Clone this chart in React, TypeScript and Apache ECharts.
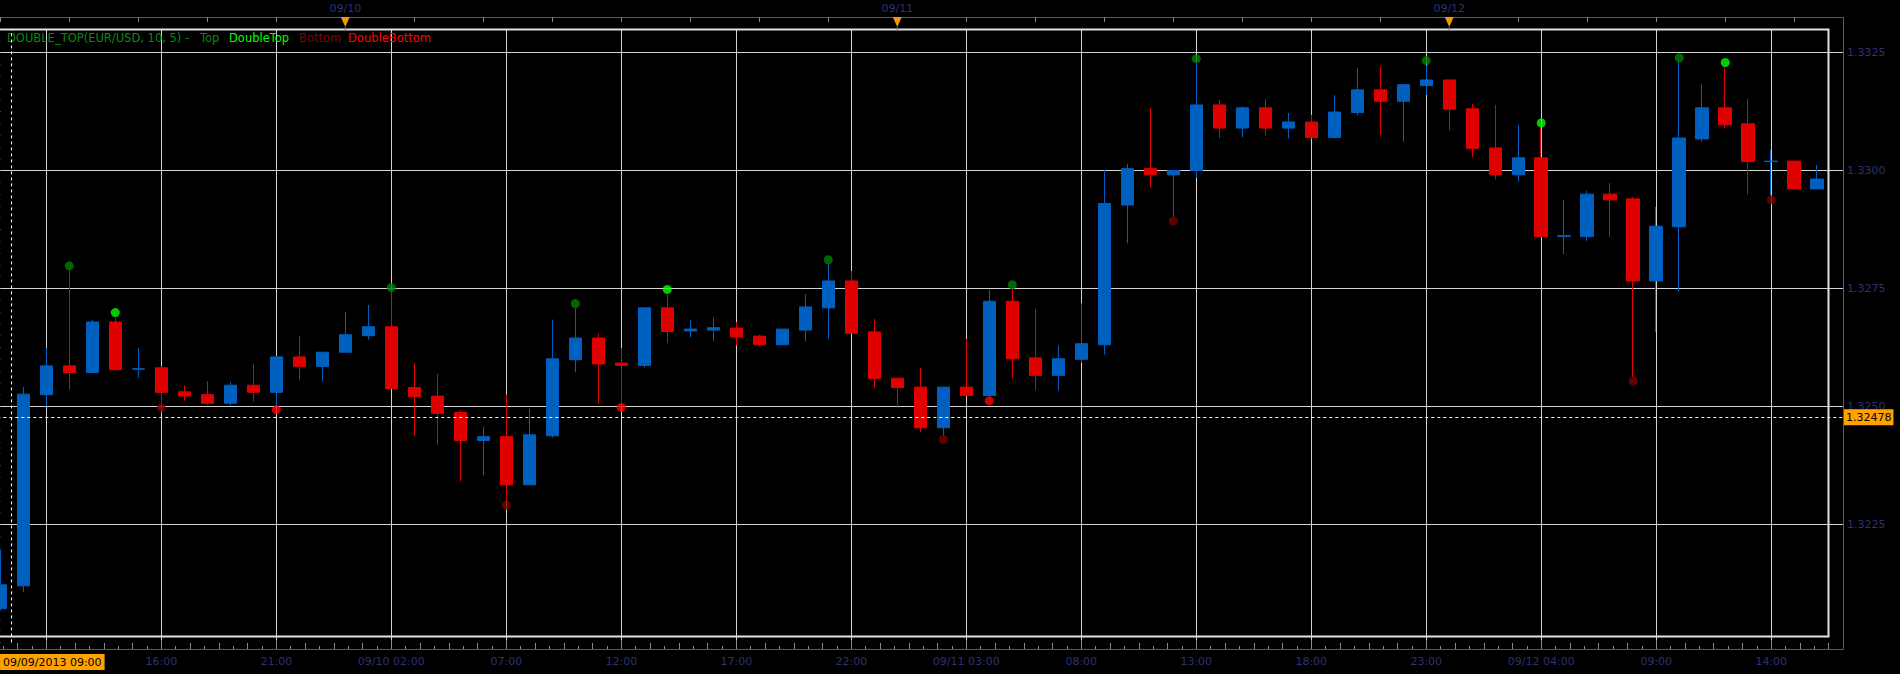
import React, { useEffect, useRef } from 'react';
import * as echarts from 'echarts';

// ---- candle data (hourly EUR/USD, index 0 = 09/09/2013 09:00) ----
const opens = [
  1.32072, 1.3212, 1.32525, 1.32586, 1.32572, 1.32679, 1.32579, 1.32582, 1.32531, 1.32525,
  1.32507, 1.32545, 1.3253, 1.32605, 1.32585, 1.32615, 1.3265, 1.32669, 1.3254, 1.32522,
  1.32487, 1.32428, 1.32436, 1.32334, 1.32438, 1.32599, 1.32645, 1.32592, 1.32587, 1.32709,
  1.3266, 1.32662, 1.32666, 1.32649, 1.32631, 1.32662, 1.32709, 1.32766, 1.32658, 1.3256,
  1.32541, 1.32455, 1.32541, 1.32523, 1.32723, 1.32603, 1.32566, 1.326, 1.32631, 1.32927,
  1.33004, 1.32991, 1.33, 1.33139, 1.3309, 1.33133, 1.3309, 1.33103, 1.3307, 1.33123,
  1.33171, 1.33147, 1.3318, 1.33192, 1.33131, 1.33048, 1.32991, 1.33027, 1.3286, 1.3286,
  1.3295, 1.3294, 1.32766, 1.32881, 1.33067, 1.33133, 1.33099, 1.33019, 1.3302, 1.32961,
];
const closes = [
  1.32122, 1.32526, 1.32586, 1.32572, 1.32679, 1.32578, 1.3258, 1.3253, 1.32522, 1.32507,
  1.32545, 1.3253, 1.32605, 1.32585, 1.32615, 1.32652, 1.32669, 1.32538, 1.32521, 1.32485,
  1.32428, 1.32436, 1.32334, 1.3244, 1.32601, 1.32645, 1.3259, 1.32587, 1.32709, 1.32659,
  1.32664, 1.32667, 1.32647, 1.32631, 1.32664, 1.32711, 1.32766, 1.32655, 1.32559, 1.3254,
  1.32455, 1.32541, 1.32523, 1.32723, 1.32601, 1.32566, 1.32601, 1.32633, 1.3293, 1.33004,
  1.32991, 1.33, 1.33139, 1.3309, 1.33133, 1.3309, 1.33103, 1.3307, 1.33124, 1.33171,
  1.33147, 1.33182, 1.33192, 1.3313, 1.33047, 1.32991, 1.33027, 1.3286, 1.32862, 1.3295,
  1.32938, 1.32766, 1.32882, 1.33069, 1.33133, 1.33097, 1.33019, 1.3302, 1.32961, 1.32982,
];
const lows = [
  1.32068, 1.32107, 1.325, 1.32535, 1.32572, 1.32578, 1.32561, 1.32502, 1.32512, 1.32503,
  1.32502, 1.32511, 1.32502, 1.32555, 1.32553, 1.32615, 1.32642, 1.32538, 1.32438, 1.32419,
  1.32341, 1.32354, 1.323, 1.32334, 1.32434, 1.32573, 1.32506, 1.32502, 1.32582, 1.32634,
  1.32647, 1.32639, 1.32629, 1.32628, 1.32631, 1.32638, 1.32644, 1.32655, 1.3254, 1.32497,
  1.32445, 1.32438, 1.32523, 1.32521, 1.32559, 1.32534, 1.32534, 1.32593, 1.3261, 1.32846,
  1.32964, 1.32902, 1.32985, 1.33069, 1.33071, 1.33074, 1.33068, 1.33068, 1.33068, 1.33117,
  1.33075, 1.33061, 1.3316, 1.33085, 1.33028, 1.32981, 1.32976, 1.3286, 1.32823, 1.32851,
  1.32859, 1.32562, 1.32658, 1.32744, 1.33061, 1.33089, 1.3295, 1.32944, 1.32959, 1.32961,
];
const highs = [
  1.32196, 1.32541, 1.32624, 1.32789, 1.32684, 1.32688, 1.32624, 1.32585, 1.32545, 1.32554,
  1.32552, 1.3259, 1.32607, 1.32649, 1.32615, 1.327, 1.32715, 1.32746, 1.32592, 1.32569,
  1.32492, 1.32457, 1.32525, 1.32495, 1.32684, 1.32708, 1.32654, 1.32624, 1.32709, 1.32737,
  1.32684, 1.32688, 1.32679, 1.32652, 1.32664, 1.32738, 1.32803, 1.32787, 1.32685, 1.3256,
  1.32582, 1.32541, 1.32643, 1.32747, 1.3275, 1.32707, 1.32629, 1.32719, 1.33001, 1.33014,
  1.33133, 1.33001, 1.33232, 1.3315, 1.33136, 1.33152, 1.33122, 1.33118, 1.3316, 1.33217,
  1.33221, 1.33182, 1.33222, 1.33192, 1.33141, 1.33139, 1.33097, 1.33092, 1.32938, 1.32957,
  1.32974, 1.32944, 1.32923, 1.33232, 1.33183, 1.33219, 1.33152, 1.33044, 1.3302, 1.33012,
];

// ---- pattern markers ----
const topIdx = [3, 17, 25, 36, 44, 52, 62, 73];
const topVal = [1.32798, 1.32752, 1.32718, 1.32811, 1.32758, 1.33237, 1.33233, 1.33239];
const doubleTopIdx = [5, 29, 67, 75];
const doubleTopVal = [1.32699, 1.32748, 1.33101, 1.33229];
const bottomIdx = [7, 22, 41, 51, 71, 77];
const bottomVal = [1.32497, 1.32291, 1.3243, 1.32893, 1.32554, 1.32938];
const doubleBottomIdx = [12, 27, 43];
const doubleBottomVal = [1.32493, 1.32498, 1.32512];

// ---- axis labels ----
const timeTickIndex = [7, 12, 17, 22, 27, 32, 37, 42, 47, 52, 57, 62, 67, 72, 77];
const timeTickLabels = [
  '16:00', '21:00', '09/10 02:00', '07:00', '12:00', '17:00', '22:00', '09/11 03:00',
  '08:00', '13:00', '18:00', '23:00', '09/12 04:00', '09:00', '14:00',
];
const dayTickIndex = [15, 39, 63];
const dayTickLabels = ['09/10', '09/11', '09/12'];

// ---- crosshair ----
const crosshairIndex = 0.478;
const crosshairTime = '09/09/2013 09:00';
const crosshairPrice = 1.32478;

const legendTexts = ['DOUBLE_TOP(EUR/USD, 10, 5) -', 'Top', 'DoubleTop', 'Bottom', 'DoubleBottom'];
const legendColors = ['#0a8a0a', '#0a8a0a', '#00ff00', '#800000', '#ff0000'];
const legendX = [7, 200, 229, 299, 348];

const X_MIN = -3;
const X_MAX = 80.12;
const Y_MIN = 1.32;
const Y_MAX = 1.333;

const FONT = 'DejaVu Sans';
const LABEL_COLOR = '#2d3270';
const GRID_COLOR = '#d4d4d4';
const AXIS_COLOR = '#5a5a5a';
const TICK_COLOR = '#8a8a8a';
const UP = '#0060c0';
const DOWN = '#e00000';

export default function App() {
  const ref = useRef<HTMLDivElement>(null);
  useEffect(() => {
    if (!ref.current) return;
    const chart = echarts.init(ref.current, undefined, { renderer: 'svg' });
    const exact = (v: number) => Math.abs(v - Math.round(v)) < 1e-6;
    const option: any = {
      animation: false,
      backgroundColor: '#000000',
      grid: {
        left: -68.7,
        right: 57,
        top: 29,
        bottom: 31.6,
        containLabel: false,
        outerBoundsMode: 'none',
        show: false,
      },
      axisPointer: { triggerOn: 'none' },
      xAxis: [
        {
          type: 'value',
          position: 'bottom',
          min: X_MIN,
          max: X_MAX,
          interval: 5,
          offset: 6.6,
          axisLine: { show: true, lineStyle: { color: AXIS_COLOR, width: 1 } },
          axisTick: { show: true, inside: true, length: 9, lineStyle: { color: TICK_COLOR } },
          minorTick: { show: true, splitNumber: 8, length: 3, lineStyle: { color: TICK_COLOR } },
          axisLabel: {
            show: true,
            margin: 7,
            fontFamily: FONT,
            fontSize: 11,
            color: LABEL_COLOR,
            formatter: (v: number) => {
              if (!exact(v)) return '';
              const k = timeTickIndex.indexOf(Math.round(v));
              return k >= 0 ? timeTickLabels[k] : '';
            },
          },
          splitLine: {
            show: true,
            showMinLine: false,
            showMaxLine: false,
            lineStyle: { color: GRID_COLOR, width: 1 },
          },
          minorSplitLine: { show: false },
          axisPointer: {
            show: true,
            status: 'show',
            value: crosshairIndex,
            type: 'line',
            snap: false,
            triggerTooltip: false,
            lineStyle: { color: '#ffffff', width: 1, type: [3, 3] },
            label: {
              show: true,
              formatter: () => crosshairTime,
              backgroundColor: '#ffa200',
              color: '#000000',
              fontFamily: FONT,
              fontSize: 11,
              lineHeight: 12,
              padding: [2, 3, 2, 3],
              margin: 5,
              borderRadius: 0,
              shadowBlur: 0,
            },
          },
        },
        {
          type: 'value',
          position: 'bottom',
          min: X_MIN,
          max: X_MAX,
          interval: 1.25,
          offset: 6.6,
          axisLine: { show: false },
          axisTick: { show: true, inside: true, length: 6, lineStyle: { color: TICK_COLOR } },
          axisLabel: { show: false },
          splitLine: { show: false },
        },
        {
          type: 'value',
          position: 'top',
          min: X_MIN,
          max: X_MAX,
          interval: 3,
          offset: 12,
          axisLine: { show: true, lineStyle: { color: AXIS_COLOR, width: 1 } },
          axisTick: { show: true, inside: true, length: 5, lineStyle: { color: TICK_COLOR } },
          axisLabel: {
            show: true,
            margin: 3,
            fontFamily: FONT,
            fontSize: 11,
            color: LABEL_COLOR,
            formatter: (v: number) => {
              if (!exact(v)) return '';
              const k = dayTickIndex.indexOf(Math.round(v));
              return k >= 0 ? dayTickLabels[k] : '';
            },
          },
          splitLine: { show: false },
        },
      ],
      yAxis: [
        {
          type: 'value',
          position: 'right',
          min: Y_MIN,
          max: Y_MAX,
          interval: 0.0025,
          offset: 0,
          axisLine: { show: false },
          axisTick: { show: true, inside: true, length: 4, lineStyle: { color: TICK_COLOR } },
          minorTick: { show: true, splitNumber: 10, length: 4, lineStyle: { color: TICK_COLOR } },
          axisLabel: {
            show: true,
            margin: 4,
            fontFamily: FONT,
            fontSize: 11,
            color: LABEL_COLOR,
            showMinLabel: false,
            showMaxLabel: false,
            formatter: (v: number) => v.toFixed(4),
          },
          splitLine: {
            show: true,
            showMinLine: false,
            showMaxLine: false,
            lineStyle: { color: GRID_COLOR, width: 1 },
          },
          axisPointer: {
            show: true,
            status: 'show',
            value: crosshairPrice,
            type: 'line',
            snap: false,
            triggerTooltip: false,
            lineStyle: { color: '#ffffff', width: 1, type: [3, 3] },
            label: {
              show: true,
              formatter: (p: any) => Number(p.value).toFixed(5),
              backgroundColor: '#ffa200',
              color: '#000000',
              fontFamily: FONT,
              fontSize: 11,
              lineHeight: 12,
              padding: [2, 2, 2, 2],
              margin: 1,
              borderRadius: 0,
              shadowBlur: 0,
            },
          },
        },
        {
          type: 'value',
          position: 'right',
          min: Y_MIN,
          max: Y_MAX,
          interval: 0.00125,
          offset: 0,
          axisLine: { show: false },
          axisTick: { show: true, inside: true, length: 7, lineStyle: { color: TICK_COLOR } },
          axisLabel: { show: false },
          splitLine: { show: false },
        },
      ],
      series: [
        {
          type: 'candlestick',
          name: 'EUR/USD',
          xAxisIndex: 0,
          yAxisIndex: 0,
          barWidth: 13,
          data: opens.map((o, i) => [i, o, closes[i], lows[i], highs[i]]),
          itemStyle: {
            color: UP,
            color0: DOWN,
            borderColor: UP,
            borderColor0: DOWN,
            borderWidth: 1,
          },
          z: 3,
        },
        {
          type: 'scatter',
          name: 'Top',
          xAxisIndex: 0,
          yAxisIndex: 0,
          symbol: 'circle',
          symbolSize: 9,
          clip: false,
          data: topIdx.map((x, k) => [x, topVal[k]]),
          itemStyle: { color: '#008000' },
          z: 5,
        },
        {
          type: 'scatter',
          name: 'DoubleTop',
          xAxisIndex: 0,
          yAxisIndex: 0,
          symbol: 'circle',
          symbolSize: 9,
          clip: false,
          data: doubleTopIdx.map((x, k) => [x, doubleTopVal[k]]),
          itemStyle: { color: '#00ff00' },
          z: 5,
        },
        {
          type: 'scatter',
          name: 'Bottom',
          xAxisIndex: 0,
          yAxisIndex: 0,
          symbol: 'circle',
          symbolSize: 9,
          clip: false,
          data: bottomIdx.map((x, k) => [x, bottomVal[k]]),
          itemStyle: { color: '#7a0000' },
          z: 5,
        },
        {
          type: 'scatter',
          name: 'DoubleBottom',
          xAxisIndex: 0,
          yAxisIndex: 0,
          symbol: 'circle',
          symbolSize: 9,
          clip: false,
          data: doubleBottomIdx.map((x, k) => [x, doubleBottomVal[k]]),
          itemStyle: { color: '#ff0000' },
          z: 5,
        },
      ],
    };
    chart.setOption(option);

    const graphics: any[] = [];
    // plot frame
    graphics.push({
      type: 'rect',
      z: 20,
      silent: true,
      shape: { x: -1, y: 29.5, width: 1829.5, height: 607 },
      style: { fill: 'none', stroke: '#dde2ea', lineWidth: 2 },
    });
    graphics.push({
      type: 'line',
      z: 20,
      silent: true,
      shape: { x1: 1843.5, y1: 17, x2: 1843.5, y2: 649.5 },
      style: { stroke: AXIS_COLOR, lineWidth: 1 },
    });
    // legend
    legendTexts.forEach((t, k) => {
      graphics.push({
        type: 'text',
        z: 21,
        silent: true,
        x: legendX[k],
        y: 38,
        style: {
          text: t,
          fill: legendColors[k],
          font: `11.5px "${FONT}"`,
          verticalAlign: 'middle',
          align: 'left',
        },
      });
    });
    // day markers on top axis
    dayTickIndex.forEach((d) => {
      const px = chart.convertToPixel({ xAxisIndex: 2 }, d) as unknown as number;
      graphics.push({
        type: 'polygon',
        z: 21,
        silent: true,
        shape: { points: [[px - 4.5, 17], [px + 4.5, 17], [px, 27]] },
        style: { fill: '#ee9a00' },
      });
      graphics.push({
        type: 'line',
        z: 21,
        silent: true,
        shape: { x1: px, y1: 27, x2: px, y2: 31 },
        style: { stroke: '#b07000', lineWidth: 1 },
      });
    });
    chart.setOption({ graphic: graphics });

    return () => {
      chart.dispose();
    };
  }, []);
  return (
    <div
      ref={ref}
      style={{ position: 'fixed', left: 0, top: 0, width: 1900, height: 674, background: '#000' }}
    />
  );
}
